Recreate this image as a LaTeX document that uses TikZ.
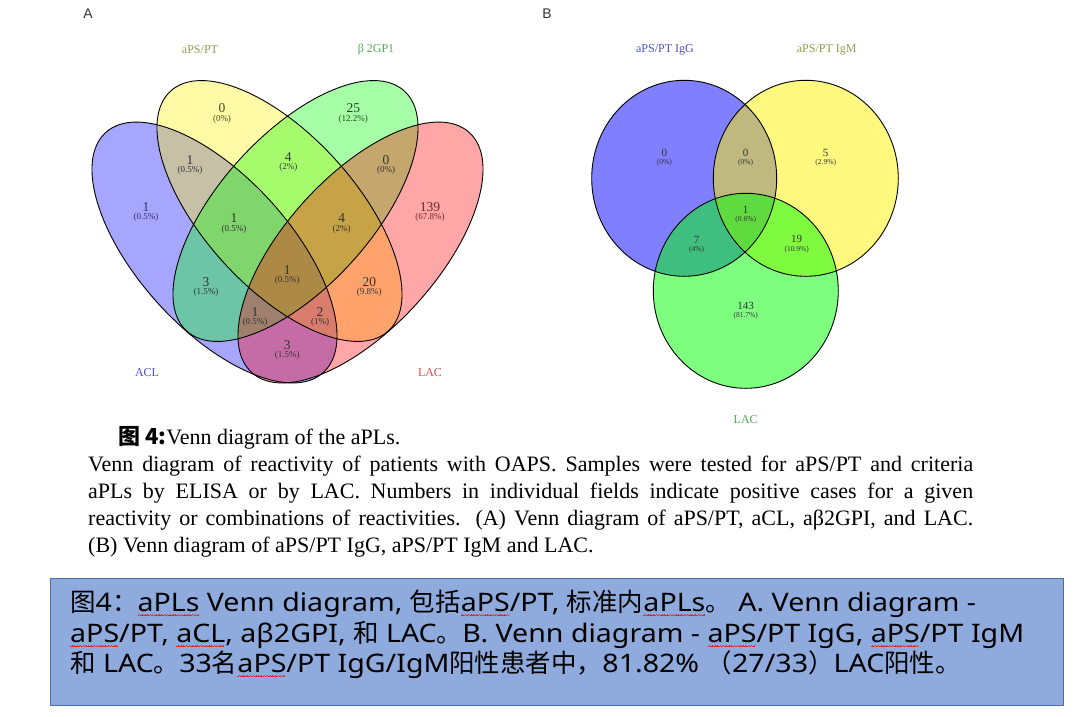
\documentclass[tikz,border=0pt]{standalone}
\usepackage{fontspec}
\setmainfont{Liberation Serif}
\newfontfamily\cjk{Noto Sans CJK SC}
\newfontfamily\lsans{Liberation Sans}
\newfontfamily\nsans[FakeStretch=1.12]{Noto Sans}
\definecolor{boxfill}{HTML}{8FAADC}
\definecolor{boxline}{HTML}{4A6FA8}
\definecolor{labolive}{HTML}{9A9A50}
\definecolor{labgreen}{HTML}{55AA55}
\definecolor{labblue}{HTML}{5050C8}
\definecolor{labred}{HTML}{D05050}
\definecolor{numblue}{HTML}{30307A}
\definecolor{numolive}{HTML}{4A4A20}
\definecolor{numgreen}{HTML}{1E4A1E}
\definecolor{numred}{HTML}{6A2A2A}
\definecolor{numdark}{HTML}{333333}
\definecolor{sqred}{HTML}{E02828}
\newsavebox\sqbox
\newcommand\vregA[6]{%
  \node[numA,text=#6] (#1) at (#2,#3) {#4};
  \node[pctA,text=#6] (#1p) at (#2,#3+10.7) {#5};}
\newcommand\vregB[5]{%
  \node[numB] (#1) at (#2,#3-0.6) {#4};
  \node[pctB] (#1p) at (#2,#3+9.2) {#5};}
\newcommand\waveunit{\hbox{\rule[-4.6pt]{0.7pt}{0.6pt}\rule[-4.1pt]{0.7pt}{0.6pt}\rule[-3.6pt]{0.7pt}{0.6pt}\rule[-4.1pt]{0.7pt}{0.6pt}}}
\newcommand\squig[1]{\sbox\sqbox{#1}\rlap{\textcolor{sqred}{\hbox to\wd\sqbox{\leaders\waveunit\hfill}}}\usebox\sqbox}
\begin{document}
\begin{tikzpicture}[x=1pt,y=-1pt,
  numA/.style={font=\fontsize{13.5}{14}\selectfont,inner sep=0pt},
  pctA/.style={font=\fontsize{9}{9}\selectfont,inner sep=0pt},
  numB/.style={font=\fontsize{11}{11}\selectfont,inner sep=0pt,text=numdark},
  pctB/.style={font=\fontsize{7.5}{7.5}\selectfont,inner sep=0pt,text=numdark},
  setlab/.style={font=\fontsize{12}{12}\selectfont,inner sep=0pt},
  panel/.style={font=\lsans\fontsize{14}{14}\selectfont,inner sep=0pt,text=numdark},
  caprow/.style={anchor=base west,inner sep=0pt,font=\fontsize{22}{27}\selectfont},
  boxrow/.style={anchor=base west,inner sep=0pt,font=\nsans\fontsize{25.5}{30}\selectfont},
  vennA/.style={fill opacity=0.35},
  vennB/.style={fill opacity=0.5},
  outl/.style={draw=black,line width=0.9pt}]
\useasboundingbox (0,0) rectangle (1080,716);
\fill[white] (0,0) rectangle (1080,716);

% ---------- panel A ----------
\node[panel] (pA) at (88,14) {A};
\fill[blue,vennA]   [rotate around={-47.8:(214.5,252.5)}] (214.5,252.5) ellipse [x radius=162pt,y radius=76pt];
\fill[yellow,vennA] [rotate around={-47.8:(279.5,211)}] (279.5,211) ellipse [x radius=162pt,y radius=76pt];
\fill[green,vennA]  [rotate around={47.8:(295.5,211)}] (295.5,211) ellipse [x radius=162pt,y radius=76pt];
\fill[red,vennA]    [rotate around={47.8:(360.5,252.5)}] (360.5,252.5) ellipse [x radius=162pt,y radius=76pt];
\draw[outl] [rotate around={-47.8:(214.5,252.5)}] (214.5,252.5) ellipse [x radius=162pt,y radius=76pt];
\draw[outl] [rotate around={-47.8:(279.5,211)}] (279.5,211) ellipse [x radius=162pt,y radius=76pt];
\draw[outl] [rotate around={47.8:(295.5,211)}] (295.5,211) ellipse [x radius=162pt,y radius=76pt];
\draw[outl] [rotate around={47.8:(360.5,252.5)}] (360.5,252.5) ellipse [x radius=162pt,y radius=76pt];

\node[setlab,text=labolive] (lapt) at (200,50) {aPS/PT};
\node[setlab,text=labgreen] (lb2) at (376,50) {β 2GP1};
\node[setlab,text=labblue] (lacl) at (147,373) {ACL};
\node[setlab,text=labred] (llac) at (430,373) {LAC};

\vregA{ry}{222}{108.3}{0}{(0\%)}{numolive}
\vregA{rg}{353.3}{108.3}{25}{(12.2\%)}{numgreen}
\vregA{rby}{190}{160}{1}{(0.5\%)}{numdark}
\vregA{ryg}{288.3}{156.7}{4}{(2\%)}{numdark}
\vregA{rgr}{386}{160}{0}{(0\%)}{numdark}
\vregA{rb}{146}{206.7}{1}{(0.5\%)}{numblue}
\vregA{rr}{430}{206.7}{139}{(67.8\%)}{numred}
\vregA{rbyg}{234}{218.3}{1}{(0.5\%)}{numdark}
\vregA{rygr}{341.7}{218.3}{4}{(2\%)}{numdark}
\vregA{rbg}{206}{281.7}{3}{(1.5\%)}{numdark}
\vregA{rall}{287.3}{270}{1}{(0.5\%)}{numdark}
\vregA{ryr}{369.3}{281.7}{20}{(9.8\%)}{numdark}
\vregA{rbgr}{255}{311.7}{1}{(0.5\%)}{numdark}
\vregA{rbyr}{320}{311.7}{2}{(1\%)}{numdark}
\vregA{rbr}{287.3}{345}{3}{(1.5\%)}{numdark}

% ---------- panel B ----------
\node[panel] (pB) at (547,14) {B};
\fill[blue,vennB]   (684.2,178.3) ellipse [x radius=92.5pt,y radius=98pt];
\fill[yellow,vennB] (805.8,178.3) ellipse [x radius=92.5pt,y radius=98pt];
\fill[green,vennB]  (745.8,290.8) ellipse [x radius=92.5pt,y radius=97.5pt];
\draw[outl] (684.2,178.3) ellipse [x radius=92.5pt,y radius=98pt];
\draw[outl] (805.8,178.3) ellipse [x radius=92.5pt,y radius=98pt];
\draw[outl] (745.8,290.8) ellipse [x radius=92.5pt,y radius=97.5pt];

\node[setlab,text=labblue] (ligg) at (665,50) {aPS/PT IgG};
\node[setlab,text=labolive] (ligm) at (826.7,50) {aPS/PT IgM};
\node[setlab,text=labgreen] (llacb) at (745.7,420) {LAC};

\vregB{sg}{664.3}{153.3}{0}{(0\%)}
\vregB{sgm}{745.7}{153.3}{0}{(0\%)}
\vregB{sm}{825.7}{153.3}{5}{(2.9\%)}
\vregB{sall}{745.7}{210}{1}{(0.6\%)}
\vregB{sgl}{696.7}{240}{7}{(4\%)}
\vregB{sml}{796.7}{240}{19}{(10.9\%)}
\vregB{sl}{745.7}{306.7}{143}{(81.7\%)}

% ---------- caption ----------
\node[caprow] (c0) at (118,444) {{\cjk\bfseries 图 4:}Venn diagram of the aPLs.};
\node[caprow] (c1) at (88,471) {\makebox[885pt][s]{Venn diagram of reactivity of patients with OAPS. Samples were tested for aPS/PT and criteria}};
\node[caprow] (c2) at (88,498) {\makebox[885pt][s]{aPLs by ELISA or by LAC. Numbers in individual fields indicate positive cases for a given}};
\node[caprow] (c3) at (88,525) {\makebox[885pt][s]{reactivity or combinations of reactivities. (A) Venn diagram of aPS/PT, aCL, aβ2GPI, and LAC.}};
\node[caprow] (c4) at (88,552) {(B) Venn diagram of aPS/PT IgG, aPS/PT IgM and LAC.};

% ---------- summary box ----------
\draw[fill=boxfill,draw=boxline,line width=1pt] (50,578) rectangle (1063,705);
\node[boxrow] (b1) at (70,611) {{\cjk 图}4{\cjk ：}\squig{aPLs} Venn diagram, {\cjk 包括}\squig{aPS}/PT, {\cjk 标准内}\squig{aPLs}{\cjk 。} A. Venn diagram -};
\node[boxrow] (b2) at (70,642) {\squig{aPS}/PT, \squig{aCL}, aβ2GPI, {\cjk 和} LAC{\cjk 。}B. Venn diagram - \squig{aPS}/PT IgG, \squig{aPS}/PT IgM};
\node[boxrow] (b3) at (70,672) {{\cjk 和} LAC{\cjk 。}33{\cjk 名}\squig{aPS}/PT IgG/IgM{\cjk 阳性患者中，}81.82\% {\cjk （}27/33{\cjk ）}LAC{\cjk 阳性。}};
\end{tikzpicture}
\end{document}
